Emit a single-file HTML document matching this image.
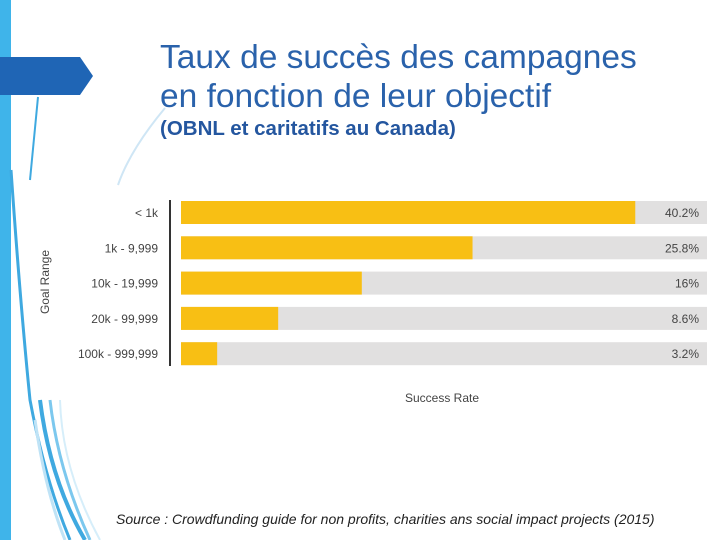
<!DOCTYPE html>
<html><head><meta charset="utf-8"><style>
body{margin:0;width:720px;height:540px;background:#fff;overflow:hidden;position:relative;font-family:"Liberation Sans",sans-serif}
.t{position:absolute;left:160px;color:#2a62ab;font-weight:normal;white-space:nowrap}
</style></head><body>
<svg width="720" height="540" style="position:absolute;left:0;top:0">
<rect x="0" y="0" width="11" height="540" fill="#3fb4ea"/>
<polygon points="0,57 80,57 93,76 80,95 0,95" fill="#1f65b5"/>
<path d="M38,97 L30,180" stroke="#3fa9e0" stroke-width="2" fill="none"/>
<path d="M165,108 Q130,150 118,185" stroke="#cfe6f5" stroke-width="2" fill="none"/>
<path d="M11,170 Q20,300 30,400 Q45,480 70,540" stroke="#3fa9e0" stroke-width="3" fill="none"/>
<path d="M40,400 Q50,480 85,540" stroke="#3fa9e0" stroke-width="4" fill="none"/>
<path d="M50,400 Q58,470 90,540" stroke="#7cc8ee" stroke-width="3" fill="none"/>
<path d="M35,420 Q45,490 65,540" stroke="#bfe3f6" stroke-width="3" fill="none"/>
<path d="M60,400 Q62,470 100,540" stroke="#d6eefa" stroke-width="2" fill="none"/>
</svg>
<div class="t" style="top:38px;font-size:33.5px;line-height:39px">Taux de succès des campagnes<br>en fonction de leur objectif</div>
<div class="t" style="top:117px;font-size:20.5px;font-weight:bold;color:#24569f">(OBNL et caritatifs au Canada)</div>
<svg id="chart" width="720" height="540" style="position:absolute;left:0;top:0"></svg>
<div style="position:absolute;left:116px;top:511px;font-size:14px;font-style:italic;color:#222;white-space:nowrap">Source : Crowdfunding guide for non profits, charities ans social impact projects (2015)</div>
<script>
const categories=["< 1k","1k - 9,999","10k - 19,999","20k - 99,999","100k - 999,999"];
const values=[40.2,25.8,16,8.6,3.2];
const labels=["40.2%","25.8%","16%","8.6%","3.2%"];
const ns="http://www.w3.org/2000/svg",svg=document.getElementById('chart');
const x0=181,x1=707,pxPer=11.3;
const xs=v=>x0+v*pxPer;
const ys=i=>201+i*35.3;
function mk(t,a,txt){const e=document.createElementNS(ns,t);for(const k in a)e.setAttribute(k,a[k]);if(txt!=null)e.textContent=txt;svg.appendChild(e);return e;}
categories.forEach((c,i)=>{
 const y=ys(i);
 let e=mk('rect',{x:x0,y:y,width:x1-x0,height:23,fill:'#e1e0e0'});
 
 
 e=mk('rect',{x:x0,y:y,width:Math.min(xs(values[i]),x1)-x0,height:23,fill:'#f8bf14'});
 
 
 e=mk('text',{x:699,y:y+16,'text-anchor':'end','font-size':12,fill:'#444'},labels[i]);
 
 
 e=mk('text',{x:158,y:y+16,'text-anchor':'end','font-size':12,fill:'#444'},c);
 
 
});
let ax=mk('line',{x1:170,y1:200,x2:170,y2:366,stroke:'#333','stroke-width':2});


let yt=mk('text',{x:49,y:282,'text-anchor':'middle','font-size':12,fill:'#444',transform:'rotate(-90 49 282)'},'Goal Range');


let xt=mk('text',{x:442,y:402,'text-anchor':'middle','font-size':12,fill:'#444'},'Success Rate');


</script>
</body></html>
